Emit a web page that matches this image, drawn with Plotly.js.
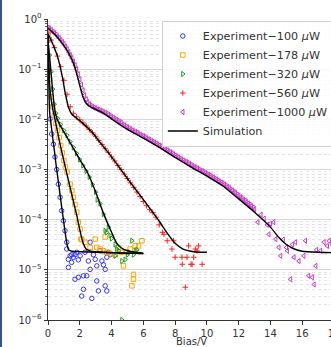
<!DOCTYPE html>
<html>
<head>
<meta charset="utf-8">
<script src="https://cdn.plot.ly/plotly-3.0.1.min.js"></script>
<style>
html,body{margin:0;padding:0;overflow:hidden;background:#fff;width:331px;height:347px;}
#chart{position:absolute;left:0;top:0;}
#bar{position:absolute;left:0;top:0;width:2px;height:347px;background:#34508f;z-index:5;}
</style>
</head>
<body>
<div id="chart"></div>
<div id="bar"></div>
<script>
// ---- Experiment data (Bias in V, normalized current) ----
const v100 = [0.13,0.23,0.34,0.44,0.55,0.65,0.76,0.86,0.97,1.07,1.18,1.18,1.28,1.28,1.39,1.49,1.49,1.6,1.7,1.7,1.81,1.91,1.91,2.02,2.12,2.23,2.23,2.33,2.44,2.54,2.65,2.65,2.76,2.86,2.97,3.07,3.07,3.17,3.28,3.39,3.49,3.6,3.6,3.7,3.7,3.81,3.91];
const i100 = [1.02e-2,5.1e-3,3.2e-3,1.78e-3,1.0e-3,5.1e-4,2.8e-4,1.51e-4,9.5e-5,6.0e-5,3.55e-5,2.6e-5,1.62e-5,1.12e-5,1.9e-5,2.0e-5,1.41e-5,1.78e-5,6.5e-6,2.0e-5,2.24e-5,7.1e-6,1.58e-5,1.9e-5,3.0e-6,7.6e-6,4.1e-6,2.24e-5,7.6e-6,1.5e-5,3.55e-5,1.02e-5,2.7e-6,2.0e-5,1.62e-5,1.2e-5,6.0e-6,3.8e-6,2.4e-5,1.5e-5,1.26e-5,1.02e-5,4.8e-6,1.78e-5,3.8e-6,2.24e-5,2.0e-5];

const v178 = [0,0.1,0.2,0.3,0.4,0.5,0.6,0.7,0.8,0.9,1.0,1.1,1.2,1.39,1.5,1.6,1.7,1.81,1.91,2.02,2.08,2.13,2.33,2.65,2.97,3.07,3.28,3.49,3.6,3.7,3.9,4.23,4.44,4.6,4.75,4.96,5.17,5.28,5.38,5.38,5.49,5.7,5.91];
const i178 = [0.5,6.3e-2,2.8e-2,1.78e-2,1.17e-2,8.3e-3,6.0e-3,4.3e-3,3.0e-3,2.14e-3,1.51e-3,1.12e-3,8.9e-4,5.1e-4,3.8e-4,2.8e-4,2.0e-4,1.41e-4,8.9e-5,6.5e-5,4.1e-5,4.0e-5,3.55e-5,2.8e-5,4.1e-5,2.8e-5,2.6e-5,2.4e-5,4.5e-5,2.24e-5,2.1e-5,2.0e-5,2.8e-5,2.24e-5,1.2e-5,2.24e-5,2.6e-5,4.8e-6,8.1e-6,6.5e-6,3.0e-5,3.0e-5,3.8e-5];

const v320 = [0,0.1,0.2,0.3,0.4,0.5,0.6,0.8,1.0,1.2,1.4,1.6,1.8,2.0,2.2,2.4,2.6,2.8,3.0,3.1,3.28,3.49,3.6,3.7,3.8,3.91,4.0,4.23,4.23,4.33,4.45,4.65,4.65,4.86,5.0,5.1,5.28,5.38,5.5,5.6];
const i320 = [0.355,0.191,8.9e-2,4.0e-2,2.0e-2,1.32e-2,1.05e-2,7.9e-3,6.0e-3,4.8e-3,3.6e-3,2.75e-3,2.1e-3,1.58e-3,1.2e-3,9.3e-4,7.1e-4,5.0e-4,3.55e-4,2.5e-4,2.1e-4,1.29e-4,6.0e-5,5.6e-5,7.1e-5,4.8e-5,4.2e-5,3.2e-5,1.9e-5,2.6e-5,2.4e-5,1.5e-5,1.0e-6,1.6e-5,2.0e-5,2.24e-5,3.8e-5,2.0e-5,2.4e-5,2.5e-5];

const v560 = [0,0.2,0.4,0.6,0.8,1.0,1.2,1.4,1.6,1.8,2.0,2.2,2.4,2.6,2.8,3.0,3.2,3.4,3.6,3.8,4.0,4.2,4.4,4.6,4.8,5.0,5.2,5.4,5.6,5.8,6.0,6.2,6.4,6.6,6.8,7.0,7.2,7.3,7.5,7.8,7.9,8.0,8.43,8.45,8.64,8.75,8.85,9.0,9.07,9.17,9.27,9.38,9.48,9.7];
const i560 = [0.525,0.38,0.269,0.182,0.112,6.0e-2,3.16e-2,1.78e-2,1.32e-2,1.12e-2,9.8e-3,8.5e-3,7.4e-3,6.3e-3,5.4e-3,4.6e-3,3.8e-3,3.16e-3,2.6e-3,2.2e-3,1.78e-3,1.48e-3,1.2e-3,1.0e-3,8.1e-4,6.6e-4,5.4e-4,4.4e-4,3.55e-4,2.9e-4,2.3e-4,1.9e-4,1.58e-4,1.38e-4,1.12e-4,7.9e-5,5.6e-5,5.1e-5,3.8e-5,2.6e-5,3.8e-5,1.78e-5,1.78e-5,1.29e-5,4.5e-6,1.78e-5,3.0e-5,1.29e-5,1.29e-5,1.78e-5,2.6e-5,2.4e-5,3.0e-5,1.29e-5];

const v1000 = [0,0.1,0.2,0.3,0.4,0.5,0.6,0.7,0.8,0.9,1.0,1.1,1.2,1.3,1.4,1.5,1.6,1.7,1.8,1.9,2.0,2.1,2.2,2.3,2.4,2.5,2.6,2.7,2.8,2.9,3.0,3.1,3.2,3.3,3.4,3.5,3.6,3.7,3.8,3.9,4.0,4.1,4.2,4.3,4.4,4.5,4.6,4.7,4.8,4.9,5.0,5.1,5.2,5.3,5.4,5.5,5.6,5.7,5.8,5.9,6.0,6.1,6.2,6.3,6.4,6.5,6.6,6.7,6.8,6.9,7.0,7.1,7.2,7.3,7.4,7.5,7.6,7.7,7.8,7.9,8.0,8.1,8.2,8.3,8.4,8.5,8.6,8.7,8.8,8.9,9.0,9.1,9.2,9.3,9.4,9.5,9.6,9.7,9.8,9.9,10.0,10.1,10.2,10.3,10.4,10.5,10.6,10.7,10.8,10.9,11.0,11.1,11.2,11.3,11.4,11.5,11.6,11.7,11.8,11.9,12.0,12.1,12.2,12.3,12.4,12.5,12.6,12.7,12.8,12.9,13.0,13.2,13.4,13.6,13.8,13.9,14.0,14.2,14.33,14.53,14.64,14.8,15.0,15.06,15.27,15.37,15.48,15.58,15.79,16.1,16.2,16.4,16.63,16.74,16.85,16.9,17.16,17.37,17.58,17.7,17.9];
const i1000 = [0.676,0.646,0.603,0.562,0.525,0.49,0.447,0.417,0.38,0.347,0.316,0.282,0.251,0.219,0.191,0.166,0.141,0.12,0.1,7.9e-2,6.3e-2,4.9e-2,3.8e-2,3.0e-2,2.51e-2,2.19e-2,2.0e-2,1.86e-2,1.78e-2,1.7e-2,1.66e-2,1.58e-2,1.55e-2,1.48e-2,1.45e-2,1.38e-2,1.35e-2,1.29e-2,1.23e-2,1.17e-2,1.12e-2,1.07e-2,1.02e-2,9.8e-3,9.3e-3,8.9e-3,8.5e-3,7.9e-3,7.6e-3,7.2e-3,6.9e-3,6.6e-3,6.3e-3,6.0e-3,5.75e-3,5.6e-3,5.4e-3,5.1e-3,4.9e-3,4.7e-3,4.6e-3,4.4e-3,4.2e-3,4.0e-3,3.9e-3,3.7e-3,3.55e-3,3.45e-3,3.3e-3,3.16e-3,3.0e-3,2.9e-3,2.75e-3,2.6e-3,2.5e-3,2.4e-3,2.3e-3,2.2e-3,2.1e-3,2.0e-3,1.9e-3,1.82e-3,1.74e-3,1.66e-3,1.58e-3,1.51e-3,1.45e-3,1.41e-3,1.35e-3,1.29e-3,1.23e-3,1.17e-3,1.12e-3,1.1e-3,1.05e-3,1.0e-3,9.5e-4,9.3e-4,8.9e-4,8.5e-4,8.1e-4,7.9e-4,7.6e-4,7.2e-4,6.9e-4,6.6e-4,6.3e-4,6.0e-4,5.75e-4,5.5e-4,5.25e-4,5.0e-4,4.7e-4,4.5e-4,4.3e-4,4.0e-4,3.8e-4,3.55e-4,3.4e-4,3.16e-4,3.0e-4,2.8e-4,2.7e-4,2.5e-4,2.4e-4,2.24e-4,2.1e-4,2.0e-4,1.86e-4,1.74e-4,1.62e-4,8.9e-5,1.26e-4,1.05e-4,7.9e-5,5.1e-5,8.3e-5,8.9e-5,4.1e-5,2.8e-5,1.9e-5,4.0e-5,2.8e-5,2.4e-5,6.5e-6,3.2e-5,1.78e-5,3.55e-5,1.5e-5,1.9e-5,3.8e-5,7.6e-6,7.1e-6,5.1e-6,1.2e-5,2.5e-5,2.4e-5,3.55e-5,3.0e-5,3.8e-5,3.2e-5];

// ---- Simulation curves ----
const sv100 = [0,0.05,0.1,0.2,0.3,0.4,0.5,0.6,0.7,0.8,0.9,1.0,1.1,1.2,1.3,1.5,2,3,4,5,6];
const si100 = [0.5,6.3e-2,1.41e-2,7.6e-3,4.2e-3,2.4e-3,1.3e-3,7.6e-4,4.4e-4,2.5e-4,1.45e-4,8.5e-5,5.0e-5,3.2e-5,2.5e-5,2.35e-5,2.3e-5,2.24e-5,2.2e-5,2.15e-5,2.1e-5];
const sv178 = [0,0.05,0.1,0.2,0.3,0.44,0.6,0.8,1.0,1.2,1.4,1.6,1.8,2.0,2.2,2.4,2.7,3,4,5,6];
const si178 = [0.5,0.158,5.0e-2,2.5e-2,1.58e-2,1.0e-2,5.6e-3,2.8e-3,1.48e-3,7.9e-4,4.3e-4,2.3e-4,1.26e-4,6.3e-5,3.5e-5,2.6e-5,2.35e-5,2.3e-5,2.2e-5,2.15e-5,2.1e-5];
const sv320 = [0,0.1,0.2,0.3,0.4,0.5,0.7,1.0,1.5,2.0,2.5,3.0,3.5,4.0,4.3,4.6,5.0,5.5,6];
const si320 = [0.355,0.178,7.9e-2,3.55e-2,1.78e-2,1.2e-2,8.3e-3,5.6e-3,3.0e-3,1.58e-3,8.5e-4,3.55e-4,1.32e-4,5.6e-5,3.5e-5,2.75e-5,2.4e-5,2.24e-5,2.15e-5];
const sv560 = [0,0.3,0.6,0.9,1.1,1.3,1.5,1.8,2.2,2.8,3.3,4,5,6,7,7.5,8,8.5,9,9.5,10];
const si560 = [0.51,0.316,0.178,7.1e-2,3.16e-2,1.7e-2,1.26e-2,1.05e-2,8.3e-3,5.4e-3,3.4e-3,1.78e-3,6.6e-4,2.5e-4,9.3e-5,5.4e-5,3.4e-5,2.6e-5,2.35e-5,2.24e-5,2.24e-5];
const sv1000 = [0,0.5,1.0,1.3,1.6,1.8,2.0,2.2,2.4,2.6,3.0,3.5,4,4.5,5,6,7,8,9,10,11,12,13,14,14.5,15,15.5,16,17,18];
const si1000 = [0.66,0.468,0.295,0.209,0.132,8.3e-2,4.7e-2,2.8e-2,2.09e-2,1.82e-2,1.58e-2,1.32e-2,1.02e-2,7.9e-3,6.3e-3,4.2e-3,2.75e-3,1.74e-3,1.12e-3,7.4e-4,4.7e-4,2.6e-4,1.41e-4,7.1e-5,4.5e-5,3.2e-5,2.6e-5,2.35e-5,2.24e-5,2.2e-5];

const xTicks = [0,2,4,6,8,10,12,14,16,18];
const yTickVals = [1e-6,1e-5,1e-4,1e-3,1e-2,1e-1,1];
const yTickText = ['10<sup>−6</sup>','10<sup>−5</sup>','10<sup>−4</sup>','10<sup>−3</sup>','10<sup>−2</sup>','10<sup>−1</sup>','10<sup>0</sup>'];

const minorVals = [];
for (let e = -6; e < 0; e++) for (let m = 2; m <= 9; m++) minorVals.push(m * Math.pow(10, e));

function exp(name, x, y, symbol, color, size, rank) {
  return {type:'scatter', mode:'markers', name:name, x:x, y:y, legendrank:rank,
    marker:{symbol:symbol, size:size, color:color, line:{color:color, width:1}}};
}
function sim(x, y, show) {
  return {type:'scatter', mode:'lines', name:'Simulation', x:x, y:y, showlegend:show, legendrank:6,
    line:{color:'#000', width:1.4, shape:'spline', smoothing:0.6}};
}

const traces = [
  exp('Experiment−100 <i>μ</i>W', v100, i100, 'circle-open', '#3535ff', 4.5, 1),
  exp('Experiment−178 <i>μ</i>W', v178, i178, 'square-open', '#ffa500', 4.5, 2),
  exp('Experiment−320 <i>μ</i>W', v320, i320, 'triangle-right-open', '#1f9a1f', 4.5, 3),
  exp('Experiment−560 <i>μ</i>W', v560, i560, 'cross-thin', '#ff2020', 4, 4),
  exp('Experiment−1000 <i>μ</i>W', v1000, i1000, 'triangle-left-open', '#c63cc6', 4.5, 5),
  sim(sv100, si100, true),
  sim(sv178, si178, false),
  sim(sv320, si320, false),
  sim(sv560, si560, false),
  sim(sv1000, si1000, false)
];

const layout = {
  width: 344, height: 347,
  margin: {l:48, r:10, t:19, b:27, pad:0},
  paper_bgcolor:'#fff', plot_bgcolor:'#fff',
  font: {family:'DejaVu Sans', size:10, color:'#333'},
  showlegend: true,
  legend: {x:0.398, y:0.995, xanchor:'left', yanchor:'top', bgcolor:'rgba(255,255,255,0.85)',
    bordercolor:'#d0d0d0', borderwidth:1, font:{family:'DejaVu Sans', size:11.2, color:'#333'},
    tracegroupgap:0},
  xaxis: {range:[0,18], tickmode:'array', tickvals:xTicks, ticks:'outside', ticklen:3.5, tickcolor:'#333',
    showline:true, linecolor:'#333', linewidth:1, showgrid:false, zeroline:false,
    tickfont:{size:10, color:'#333'}},
  yaxis: {type:'log', range:[-6,0], tickmode:'array', tickvals:yTickVals, ticktext:yTickText,
    ticks:'outside', ticklen:3.5, tickcolor:'#333', showline:true, linecolor:'#333', linewidth:1,
    showgrid:true, gridcolor:'#d6d6d6', gridwidth:1.2, zeroline:false, tickfont:{size:10, color:'#333'},
    minor:{tickmode:'array', tickvals:minorVals, ticks:'outside', ticklen:2, tickcolor:'#555',
      showgrid:true, gridcolor:'#e4e4e4', griddash:'dot', gridwidth:1}},
  annotations: [{text:'Bias/V', xref:'paper', yref:'paper', x:0.5, y:-0.073, xanchor:'center', yanchor:'middle',
    showarrow:false, font:{size:10, color:'#333'}}],
  shapes: [{type:'circle', xref:'x', yref:'y', xsizemode:'pixel', ysizemode:'pixel',
    xanchor:2.58, yanchor:-1.746, x0:-16, x1:16, y0:-16, y1:16,
    line:{color:'#222', width:1, dash:'dash'}, fillcolor:'rgba(0,0,0,0)'}]
};

Plotly.newPlot('chart', traces, layout, {displayModeBar:false, staticPlot:true});
</script>
</body>
</html>
